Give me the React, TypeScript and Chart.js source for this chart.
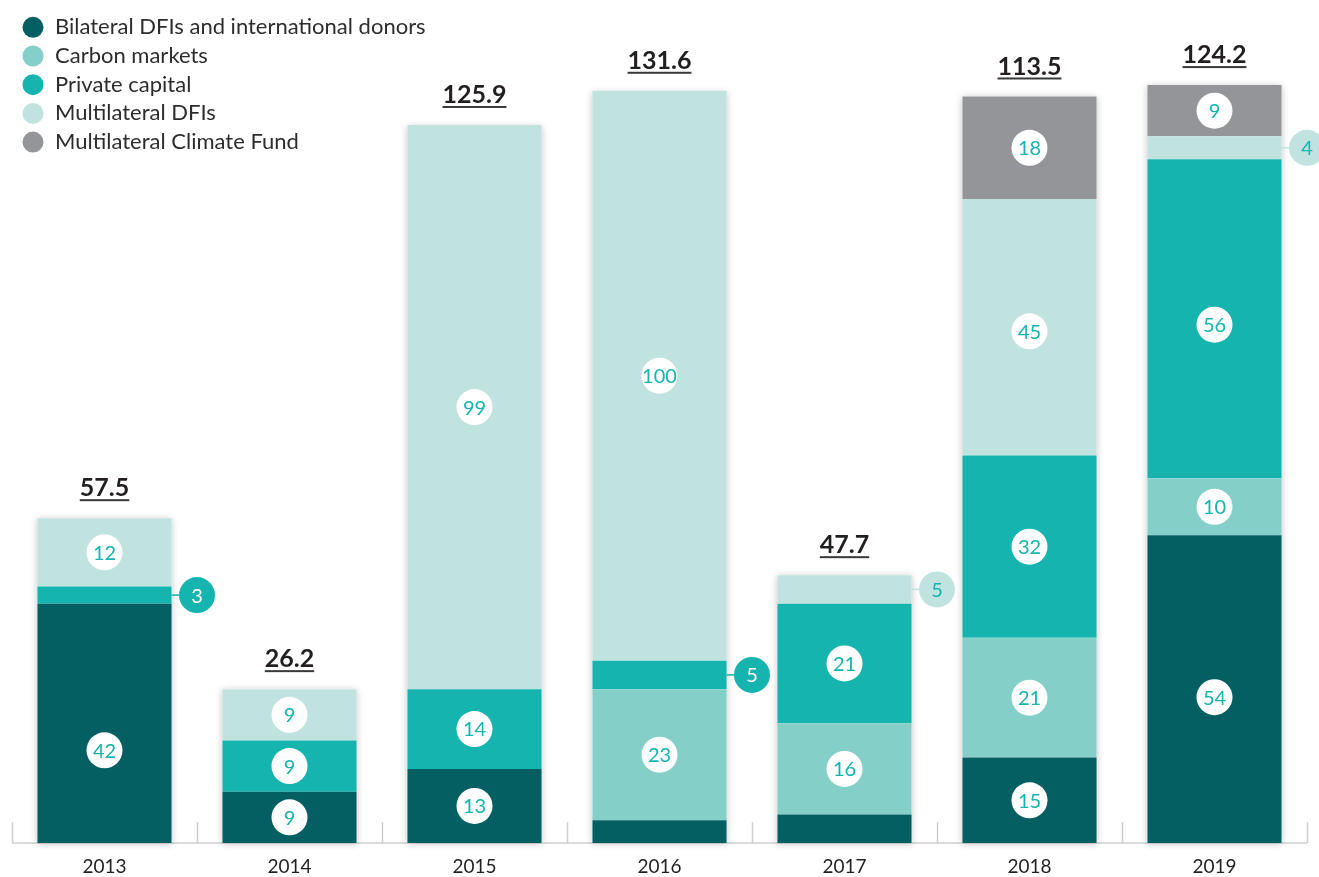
import React, { useEffect, useRef } from 'react';
import { Chart, registerables } from 'chart.js';

Chart.register(...registerables);

const years = ['2013', '2014', '2015', '2016', '2017', '2018', '2019'];
const bilateral = [42, 9, 13, 4, 5, 15, 54];
const carbonMarkets = [0, 0, 0, 23, 16, 21, 10];
const privateCapital = [3, 9, 14, 5, 21, 32, 56];
const multilateralDFIs = [12, 9, 99, 100, 5, 45, 4];
const climateFund = [0, 0, 0, 0, 0, 18, 9];
const totals = [57.5, 26.2, 125.9, 131.6, 47.7, 113.5, 124.2];

const seriesNames = [
  'Bilateral DFIs and international donors',
  'Carbon markets',
  'Private capital',
  'Multilateral DFIs',
  'Multilateral Climate Fund',
];
const seriesColors = ['#045f63', '#84cfc7', '#15b4af', '#c1e3e0', '#939598'];
const labelTeal = '#15b4af';
const FONT = 'Lato, "Open Sans", sans-serif';

// vertical nudges (px) of a few segment labels, keyed "dataset-index"
const labelNudge: Record<string, number> = { '0-0': 27, '0-6': 8, '2-6': 6, '3-5': 4 };

const baseAndTicks = {
  id: 'baseAndTicks',
  beforeDatasetsDraw(chart: any) {
    const { ctx, chartArea, scales } = chart;
    const x = scales.x;
    const y = scales.y;
    const n = years.length;
    const cw = (chartArea.right - chartArea.left) / n;
    ctx.save();
    ctx.strokeStyle = '#cfcfcf';
    ctx.lineWidth = 1.5;
    ctx.beginPath();
    ctx.moveTo(chartArea.left, chartArea.bottom);
    ctx.lineTo(chartArea.right, chartArea.bottom);
    for (let k = 0; k <= n; k++) {
      const px = Math.round(chartArea.left + k * cw) + 0.5;
      ctx.moveTo(px, chartArea.bottom);
      ctx.lineTo(px, chartArea.bottom - 21);
    }
    ctx.stroke();
    // bar shadows
    const meta0 = chart.getDatasetMeta(0);
    for (let i = 0; i < n; i++) {
      let sum = 0;
      chart.data.datasets.forEach((ds: any) => (sum += ds.data[i] || 0));
      const el = meta0.data[i];
      const w = el.width;
      const cx = x.getPixelForValue(i);
      const top = y.getPixelForValue(sum);
      const bottom = y.getPixelForValue(0);
      ctx.save();
      ctx.shadowColor = 'rgba(0,0,0,0.22)';
      ctx.shadowBlur = 7;
      ctx.shadowOffsetY = 1;
      ctx.fillStyle = '#ffffff';
      ctx.fillRect(cx - w / 2, top, w, bottom - top);
      ctx.restore();
    }
    ctx.restore();
  },
};

const segmentLabels = {
  id: 'segmentLabels',
  afterDatasetsDraw(chart: any) {
    const { ctx, chartArea } = chart;
    const n = years.length;
    const cw = (chartArea.right - chartArea.left) / n;
    const r = 18;
    ctx.save();
    ctx.font = `400 20px ${FONT}`;
    ctx.textAlign = 'center';
    ctx.textBaseline = 'middle';
    chart.data.datasets.forEach((ds: any, d: number) => {
      const meta = chart.getDatasetMeta(d);
      ds.data.forEach((v: number, i: number) => {
        if (!v) return;
        const el = meta.data[i];
        const cy = (el.y + el.base) / 2 + (labelNudge[`${d}-${i}`] || 0);
        if (v < 6) {
          if (d === 0) return;
          const right = el.x + el.width / 2;
          const cx = chartArea.left + (i + 1) * cw;
          ctx.strokeStyle = seriesColors[d];
          ctx.lineWidth = 1.5;
          ctx.beginPath();
          ctx.moveTo(right, cy);
          ctx.lineTo(cx - r, cy);
          ctx.stroke();
          ctx.fillStyle = seriesColors[d];
          ctx.beginPath();
          ctx.arc(cx, cy, r, 0, Math.PI * 2);
          ctx.fill();
          ctx.fillStyle = d === 3 ? labelTeal : '#ffffff';
          ctx.fillText(String(v), cx, cy + 1);
        } else {
          ctx.fillStyle = '#ffffff';
          ctx.beginPath();
          ctx.arc(el.x, cy, r, 0, Math.PI * 2);
          ctx.fill();
          ctx.fillStyle = labelTeal;
          ctx.fillText(String(v), el.x, cy + 1);
        }
      });
    });
    ctx.restore();
  },
};

const totalsAndLegend = {
  id: 'totalsAndLegend',
  afterDraw(chart: any) {
    const { ctx, scales } = chart;
    const x = scales.x;
    const y = scales.y;
    ctx.save();
    ctx.font = `700 25px ${FONT}`;
    ctx.textAlign = 'center';
    ctx.textBaseline = 'middle';
    years.forEach((_, i) => {
      let sum = 0;
      chart.data.datasets.forEach((ds: any) => (sum += ds.data[i] || 0));
      const top = y.getPixelForValue(sum);
      const cx = x.getPixelForValue(i);
      const txt = totals[i].toFixed(1);
      ctx.fillStyle = '#231f20';
      ctx.fillText(txt, cx, top - 30);
      const w = ctx.measureText(txt).width;
      ctx.fillStyle = '#3a3a3a';
      ctx.fillRect(cx - w / 2, top - 19, w, 2);
    });
    // legend
    ctx.textAlign = 'left';
    ctx.font = `400 22px ${FONT}`;
    seriesNames.forEach((name, k) => {
      const cy = 27.3 + k * 28.7;
      ctx.fillStyle = seriesColors[k];
      ctx.beginPath();
      ctx.arc(33, cy, 10.5, 0, Math.PI * 2);
      ctx.fill();
      ctx.fillStyle = '#2d2d2d';
      ctx.fillText(name, 55, cy);
    });
    ctx.restore();
  },
};

export default function App() {
  const ref = useRef<HTMLCanvasElement>(null);
  useEffect(() => {
    if (!ref.current) return;
    const series = [bilateral, carbonMarkets, privateCapital, multilateralDFIs, climateFund];
    const chart = new Chart(ref.current, {
      type: 'bar',
      data: {
        labels: years,
        datasets: series.map((data, k) => ({
          label: seriesNames[k],
          data,
          backgroundColor: seriesColors[k],
          borderWidth: 0,
          categoryPercentage: 1,
          barPercentage: 0.725,
        })),
      },
      options: {
        responsive: false,
        animation: false,
        layout: { padding: { left: 12, right: 12, top: 11, bottom: 0 } },
        plugins: {
          legend: { display: false },
          tooltip: { enabled: false },
        },
        scales: {
          x: {
            stacked: true,
            grid: { display: false, drawTicks: false },
            border: { display: false },
            ticks: {
              color: '#231f20',
              font: { family: FONT, size: 19 },
              padding: 12,
            },
            afterFit: (scale: any) => {
              scale.height = 34;
            },
          },
          y: {
            stacked: true,
            display: false,
            min: 0,
            max: 146,
          },
        },
      },
      plugins: [baseAndTicks, segmentLabels, totalsAndLegend],
    });
    return () => chart.destroy();
  }, []);
  return (
    <div style={{ position: 'absolute', left: 0, top: 0, width: 1319, height: 877, background: '#fff' }}>
      <canvas ref={ref} width={1319} height={877} style={{ display: 'block' }} />
    </div>
  );
}
